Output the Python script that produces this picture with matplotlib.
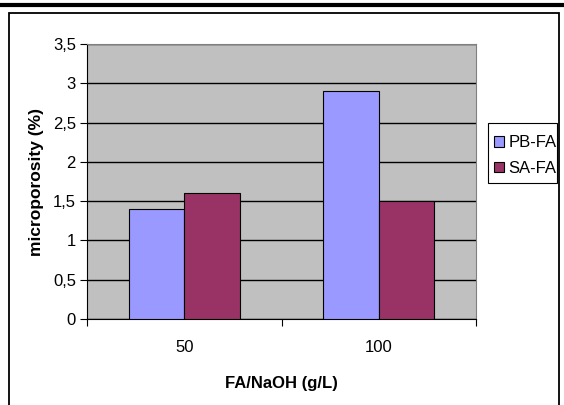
import numpy as np
import matplotlib.pyplot as plt
from matplotlib.patches import Rectangle
from matplotlib.lines import Line2D

plt.rcParams['font.family'] = ['Liberation Sans', 'DejaVu Sans']

# data
categories = ['50', '100']
series = ['PB-FA', 'SA-FA']
pb_fa = [1.4, 2.9]
sa_fa = [1.6, 1.5]
colors = ['#9999FF', '#993366']
y_ticks = [0, 0.5, 1, 1.5, 2, 2.5, 3, 3.5]
y_labels = ['0', '0,5', '1', '1,5', '2', '2,5', '3', '3,5']

W, H = 564, 405
fig = plt.figure(figsize=(W / 100, H / 100), dpi=100)

# page rule on top and chart frame
fig.add_artist(Line2D([0, 1], [1 - 5 / H, 1 - 5 / H], color='black', lw=3,
                      transform=fig.transFigure))
fig.add_artist(Rectangle((9 / W, -0.01), (559 - 9) / W, 1.01 - 12.5 / H,
                         transform=fig.transFigure, fill=False,
                         edgecolor='black', lw=1.3))

x0, x1, y_top, y_bot = 87, 476, 44, 319
ax = fig.add_axes([x0 / W, 1 - y_bot / H, (x1 - x0) / W, (y_bot - y_top) / H])
ax.set_facecolor('#C0C0C0')

x = np.arange(len(categories))
bw = 1 / 3.5
ax.bar(x - bw / 2, pb_fa, bw, color=colors[0], edgecolor='black', lw=0.8,
       label=series[0], zorder=3)
ax.bar(x + bw / 2, sa_fa, bw, color=colors[1], edgecolor='black', lw=0.8,
       label=series[1], zorder=3)

ax.set_xlim(-0.5, len(categories) - 0.5)
ax.set_ylim(0, 3.5)
ax.set_yticks(y_ticks)
ax.set_yticklabels(y_labels, fontsize=12)
ax.yaxis.grid(True, color='black', lw=1)
ax.set_axisbelow(True)

# category ticks sit between groups, labels at the centres
ax.set_xticks(np.arange(-0.5, len(categories)), minor=False)
ax.set_xticklabels([])
ax.set_xticks(x, minor=True)
ax.set_xticklabels(categories, minor=True, fontsize=12)
ax.tick_params(axis='x', which='minor', length=0, pad=15)
ax.tick_params(axis='x', which='major', length=5, direction='out')
ax.tick_params(axis='y', length=5, direction='out', pad=3)

for s in ['top', 'right']:
    ax.spines[s].set_color('#808080')
for s in ['left', 'bottom']:
    ax.spines[s].set_color('black')

ax.set_ylabel('microporosity (%)', fontsize=12.5, fontweight='bold', labelpad=6)
ax.set_xlabel('FA/NaOH (g/L)', fontsize=12, fontweight='bold', labelpad=15)

# legend box drawn separately so it can be taller than the entries need
fig.add_artist(Rectangle((488 / W, 1 - 183 / H), (557 - 488) / W, 60 / H,
                         transform=fig.transFigure, facecolor='white',
                         edgecolor='black', lw=0.8))
leg = fig.legend(loc='center left', bbox_to_anchor=(489 / W, 1 - 155.5 / H),
                 fontsize=12, frameon=False,
                 handlelength=0.6, handleheight=0.6, handletextpad=0.25,
                 borderpad=0.3, labelspacing=0.65, borderaxespad=0)

fig.savefig('out.png', dpi=100)
